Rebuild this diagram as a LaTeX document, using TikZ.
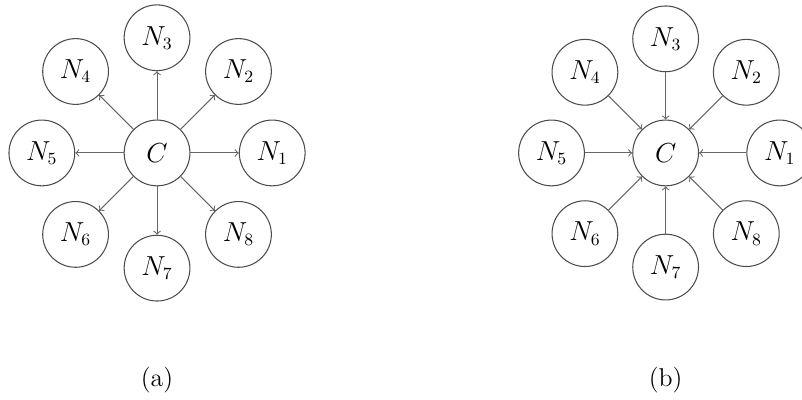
\documentclass[tikz,border=0pt]{standalone}
\usepackage{tikz}
\usetikzlibrary{calc,positioning,arrows}
\tikzset{
>=to,
  knoten/.style={
    circle,
    draw=black!70,
    line width=0.55pt,
    minimum size=1.21cm,
    inner sep=0pt,
    font=\fontsize{13.5}{16}\selectfont},
  pil/.style={draw=black!60, line width=0.55pt, ->},
  unter/.style={font=\fontsize{13.5}{16}\selectfont},
}

\begin{document}
\begin{tikzpicture}
    \useasboundingbox (0,0) rectangle (14.76,7.36);

    % (a): C sends to every N_i
    \begin{scope}[shift={(2.89,4.545)}]
        \node[knoten] (ac) at (0,0) {$C$};
        \foreach \i in {1,...,8} {
            \node[knoten] (a\i) at ({(\i-1)*45}:2.12) {$N_{\i}$};
            \draw[pil] (ac) -- (a\i);
        }
    \end{scope}
    \node[unter] (acap) at (2.89,0.37) {(a)};

    % (b): every N_i sends to C
    \begin{scope}[shift={(12.25,4.545)}]
        \node[knoten] (bc) at (0,0) {$C$};
        \foreach \i in {1,...,8} {
            \node[knoten] (b\i) at ({(\i-1)*45}:2.1) {$N_{\i}$};
            \draw[pil] (b\i) -- (bc);
        }
    \end{scope}
    \node[unter] (bcap) at (12.25,0.37) {(b)};
\end{tikzpicture}
\end{document}
